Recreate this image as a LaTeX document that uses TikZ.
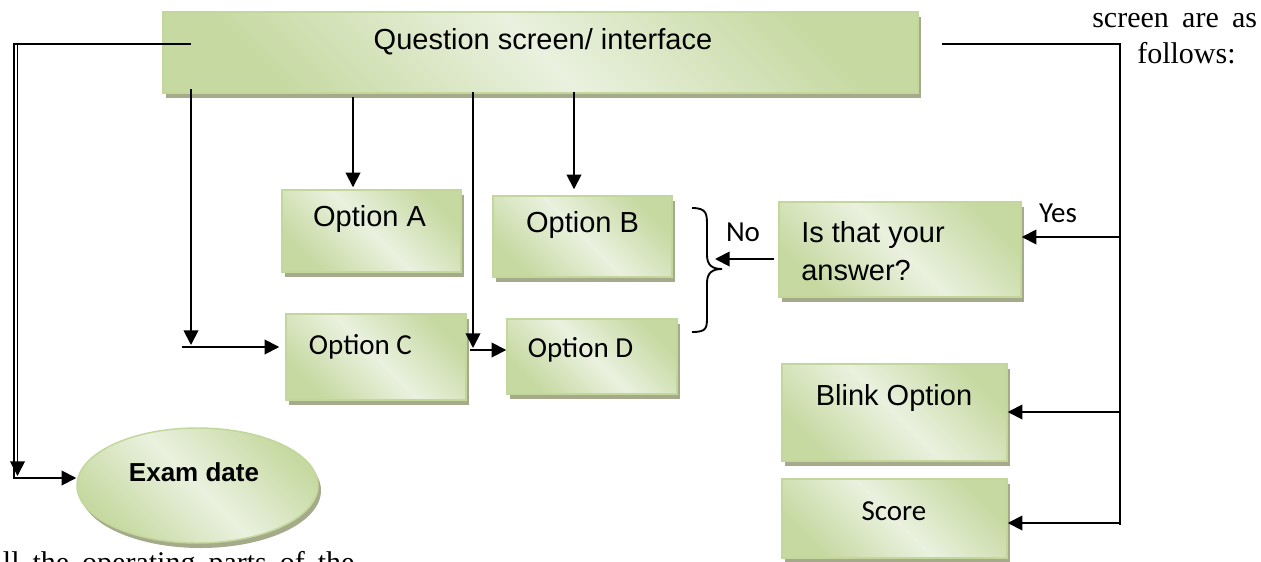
\documentclass[tikz,border=0pt]{standalone}
\usepackage{fontspec}
\setmainfont{Liberation Serif}
\newfontfamily\arialf{Liberation Sans}
\newfontfamily\calibrif{Carlito}
\usetikzlibrary{arrows.meta,shadows,shapes.geometric}
\definecolor{gEdge}{HTML}{C6D9A1}
\definecolor{gMid}{HTML}{EAF1DF}
\definecolor{gBorder}{HTML}{C3D69B}
\definecolor{gShadow}{HTML}{A5AB8A}
\pgfdeclarehorizontalshading{wordgreen}{100bp}{color(0bp)=(gEdge); color(25bp)=(gEdge); color(50bp)=(gMid); color(75bp)=(gEdge); color(100bp)=(gEdge)}
\begin{document}
\begin{tikzpicture}[x=0.75pt,y=-0.75pt,
  gbox/.style={rectangle, draw=gBorder, line width=1.1pt, shading=wordgreen, shading angle=45,
    general shadow={fill=gShadow, shadow xshift=2.25pt, shadow yshift=-3.75pt}, inner sep=0pt},
  gell/.style={gbox, ellipse},
  tA/.style={font=\arialf\fontsize{21.75}{26}\selectfont, inner sep=0pt},
  tC/.style={font=\calibrif\fontsize{21.75}{26}\selectfont, inner sep=0pt},
  tT/.style={font=\fontsize{22.5}{27}\selectfont, inner sep=0pt, anchor=base west},
  conn/.style={line width=1.4pt, black},
  arr/.style={conn, -{Triangle[length=11pt,width=11pt]}}]
\useasboundingbox (0,0) rectangle (1261,561);
\clip (0,0) rectangle (1261,561);

% boxes
\node[gbox, minimum width=566.25pt, minimum height=60.75pt] (qs) at (540.5,52.5) {};
\node[gbox, minimum width=134.25pt, minimum height=61.5pt] (A) at (371.5,231) {};
\node[gbox, minimum width=134.25pt, minimum height=60.75pt] (B) at (582.5,236.5) {};
\node[gbox, minimum width=135pt, minimum height=64.5pt] (C) at (376,357) {};
\node[gbox, minimum width=127.5pt, minimum height=56.25pt] (D) at (592,356.5) {};
\node[gbox, minimum width=181.5pt, minimum height=71.25pt] (Is) at (900,249.5) {};
\node[gbox, minimum width=168.75pt, minimum height=72.75pt] (Bl) at (894.5,412.5) {};
\node[gbox, minimum width=168.75pt, minimum height=59.25pt] (Sc) at (894.5,518.5) {};
\node[gell, minimum width=180.75pt, minimum height=86.25pt] (ex) at (197.5,485.5) {};

% texts
\node[tA] (qst) at (543,42) {Question screen/ interface};
\node[tA] (At) at (369.5,219) {Option A};
\node[tA] (Bt) at (582.5,225) {Option B};
\node[tC] (Ct) at (360.5,346.5) {Option C};
\node[tC] (Dt) at (580.5,350) {Option D};
\node[tA, anchor=west, align=left, font=\arialf\fontsize{21.75}{28.5}\selectfont] (Ist) at (801,251) {Is that your\\answer?};
\node[tA] (Blt) at (894,398) {Blink Option};
\node[tC] (Sct) at (894,511) {Score};
\node[inner sep=0pt, font=\arialf\bfseries\fontsize{19.5}{23}\selectfont] (ext) at (194,472) {Exam date};
\node[tC] (no) at (743,232) {No};
\node[tC] (yes) at (1058,213) {Yes};
\node[tT] (st1) at (1092,27) {\spaceskip=10pt screen are as};
\node[tT] (st2) at (1137,63) {follows:};
\node[tT] (st3) at (-19,572) {\spaceskip=9.75pt All the operating parts of the};

% coordinates
\coordinate (l1) at (191,44);
\coordinate (lc) at (14,44);
\coordinate (lb) at (14,478);
\coordinate (l2t) at (17.5,44);
\coordinate (l2b) at (17.5,476);
\coordinate (cT) at (191,89);
\coordinate (cB) at (191,345);
\coordinate (cL) at (182,347);
\coordinate (aT) at (353,97);
\coordinate (bT) at (574,92);
\coordinate (dT) at (473,92);
\coordinate (dB) at (473,348);
\coordinate (dL) at (470,350);
\coordinate (rS) at (942,44);
\coordinate (rC) at (1120,44);
\coordinate (rE) at (1120,525);
\coordinate (r1) at (1120,237);
\coordinate (r2) at (1120,412);
\coordinate (r3) at (1120,523);
\coordinate (n1) at (715,259);

% connectors
\draw[arr] (l1) -- (lc) -- (lb) -- (lb -| ex.west);
\draw[arr] (l2t) -- (l2b);
\draw[arr] (cT) -- (cB);
\draw[arr, shorten >=4.5pt] (cL) -- (cL -| C.west);
\draw[arr, shorten >=1.5pt] (aT) -- (aT |- A.north);
\draw[arr, shorten >=4.5pt] (bT) -- (bT |- B.north);
\draw[arr] (dT) -- (dB);
\draw[arr] (dL) -- (dL -| D.west);
\draw[conn] (rS) -- (rC) -- (rE);
\draw[arr] (r1) -- (r1 -| Is.east);
\draw[arr] (r2) -- (r2 -| Bl.east);
\draw[arr] (r3) -- (r3 -| Sc.east);
\draw[arr, shorten <=3pt] (Is.west |- n1) -- (n1);

% brace
\draw[conn] (692,208) .. controls (707,208) and (707,214) .. (707,226) -- (707,255)
  .. controls (707,265) and (712,269) .. (722,269)
  .. controls (712,269) and (707,273) .. (707,283) -- (707,316)
  .. controls (707,328) and (707,332) .. (692,332);
\end{tikzpicture}
\end{document}
